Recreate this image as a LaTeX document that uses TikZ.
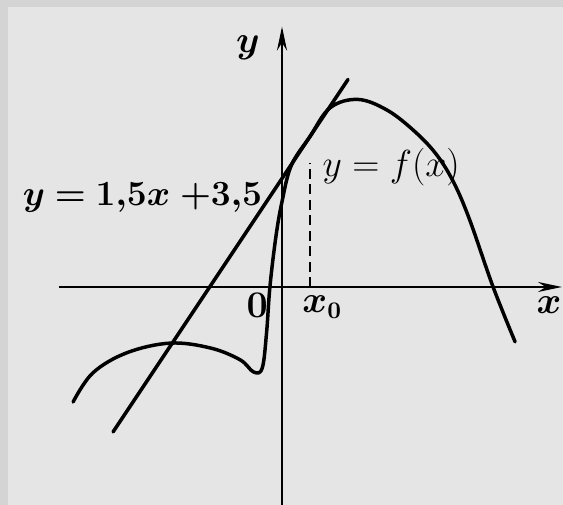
\documentclass[tikz,border=0pt]{standalone}
\usepackage{amsmath}
\usepackage{bm}
\usetikzlibrary{arrows.meta}

\begin{document}
\begin{tikzpicture}[x=0.5cm, y=0.5cm, every node/.style={font=\fontsize{16}{19}\selectfont}]
\tikzset{
  axis/.style={line width=1.1pt, -{Stealth[length=11pt, width=4.6pt]}},
  graph/.style={line width=1.6pt, line cap=round, line join=round},
}
% background and frame
\fill[black!10] (-9.097,-7.032) rectangle (9.065,9.258);
\fill[black!17] (-9.097,9.258) rectangle (9.065,9.03);
\fill[black!17] (-9.097,-7.032) rectangle (-8.84,9.258);
\useasboundingbox (-9.097,-7.032) rectangle (9.065,9.258);
% axes
\coordinate (xl) at (-7.2,0);
\coordinate (xr) at (9.03,0);
\coordinate (yb) at (0,-7.1);
\coordinate (yt) at (0,8.4);
\draw[axis] (xl) -- (xr);
\draw[axis] (yb) -- (yt);
% tangent y = 1,5x + 3,5
\coordinate (t1) at (-5.45,-4.675);
\coordinate (t2) at (2.13,6.695);
\draw[graph] (t1) -- (t2);
% graph of f
\draw[graph] plot[smooth, tension=0.6] coordinates {
  (-6.74,-3.71) (-6.1,-2.77) (-5.0,-2.12) (-3.6,-1.81) (-2.3,-1.97)
  (-1.35,-2.35) (-0.92,-2.74) (-0.64,-2.62) (-0.5,-1.5) (-0.39,0)
  (-0.2,1.6) (0,2.75) (0.3,3.92) (0.9,4.85) (1.55,5.78) (2.45,6.05)
  (3.4,5.7) (4.3,5.0) (5.0,4.25) (5.55,3.35) (6.06,2.15) (6.81,0)
  (7.52,-1.77)};
% x_0
\coordinate (x0) at (0.9,0);
\coordinate (x0top) at (0.9,4.0);
\draw[line width=1pt, dash pattern=on 4.5pt off 2.6pt] (x0) -- (x0top);
% labels
\node (ylab) at (-1.1,7.71) {$\bm{y}$};
\node (xlab) at (8.61,-0.6) {$\bm{x}$};
\node (olab) at (-0.8,-0.6) {$\mathbf{0}$};
\node (x0lab) at (1.3,-0.65) {$\bm{x_0}$};
\node (flab) at (3.52,3.87) {$y=f(x)$};
\node[scale=0.94] (tlab) at (-4.5,2.9) {$\bm{y=1{,}5x\;{+}3{,}5}$};
\end{tikzpicture}
\end{document}
